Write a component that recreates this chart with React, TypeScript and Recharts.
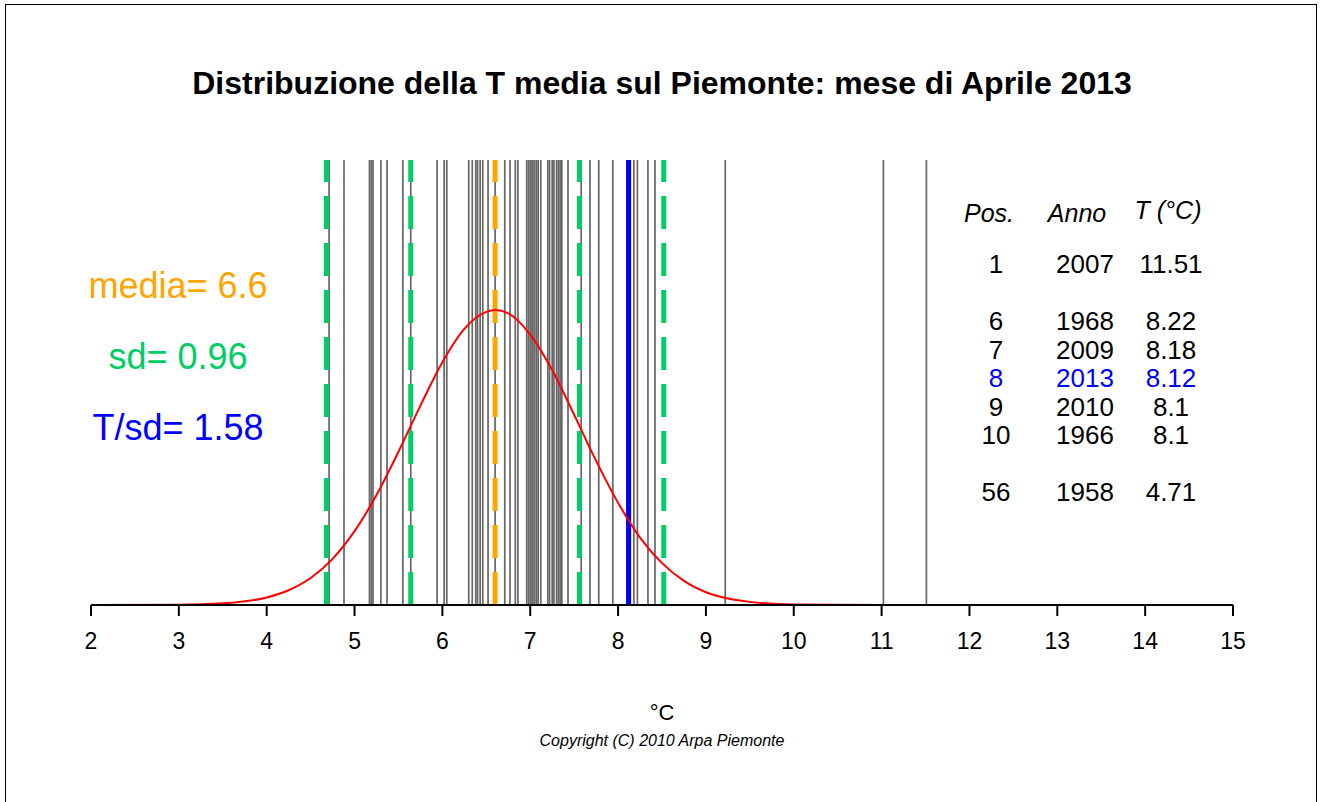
import React from "react"
import { ComposedChart, Line, XAxis, YAxis, ReferenceLine } from "recharts"

// anni osservati (T media aprile, °C)
const years = [
  4.71, 4.88, 5.17, 5.19, 5.21, 5.3, 5.37, 5.55, 5.64, 5.94, 6.02, 6.05, 6.3, 6.34,
  6.38, 6.4, 6.43, 6.46, 6.52, 6.6, 6.71, 6.77, 6.83, 6.86, 6.96, 6.98, 7.0, 7.02,
  7.03, 7.05, 7.07, 7.09, 7.12, 7.2, 7.22, 7.25, 7.27, 7.3, 7.32, 7.34, 7.36, 7.43,
  7.58, 7.68, 7.78, 7.94, 8.1, 8.1, 8.12, 8.18, 8.22, 8.34, 8.42, 9.22, 11.02, 11.51,
]

const curveX = [2, 3, 3.5, 4, 4.25, 4.5, 4.75, 5, 5.25, 5.5, 5.75, 6, 6.25, 6.5, 6.6, 6.75, 7, 7.25, 7.5, 7.75, 8, 8.25, 8.5, 8.75, 9, 9.5, 10, 11, 15]
const curveY = [0, 0.0004, 0.0023, 0.0106, 0.0208, 0.038, 0.065, 0.104, 0.155, 0.216, 0.281, 0.342, 0.389, 0.413, 0.4156, 0.411, 0.381, 0.331, 0.268, 0.203, 0.144, 0.095, 0.059, 0.034, 0.018, 0.0044, 0.0008, 0, 0]

const xTicks = [2, 3, 4, 5, 6, 7, 8, 9, 10, 11, 12, 13, 14, 15]

const media = 6.6
const sd = 0.96
const tsd = 1.58
const tAnno = 8.12
const sdLines = [media - 2 * sd, media - sd, media + sd, media + 2 * sd]

const tabPos = ["1", "6", "7", "8", "9", "10", "56"]
const tabAnno = ["2007", "1968", "2009", "2013", "2010", "1966", "1958"]
const tabT = ["11.51", "8.22", "8.18", "8.12", "8.1", "8.1", "4.71"]
const tabSlot = [0, 2, 3, 4, 5, 6, 8]

const GREEN = "#00cd66"
const ORANGE = "#ffa500"
const BLUE = "#0000ff"
const FONT = "'Liberation Sans', Arial, Helvetica, sans-serif"

const data = curveX.map((x, i) => ({ x, y: curveY[i] }))

export default function App() {
  return (
    <div style={{ position: "absolute", left: 0, top: 0, width: 1321, height: 802, background: "#fff", overflow: "hidden", fontFamily: FONT }}>
      <div style={{ position: "absolute", left: 5, top: 4, width: 1310, height: 820, border: "1.5px solid #000" }} />
      <div style={{ position: "absolute", left: 0, top: 0 }}>
        <ComposedChart width={1321} height={802} data={data} margin={{ top: 160, right: 88, left: 91, bottom: 137 }}>
          <XAxis
            type="number"
            dataKey="x"
            domain={[2, 15]}
            ticks={xTicks}
            allowDataOverflow
            height={60}
            tickSize={11}
            tickMargin={17}
            axisLine={{ stroke: "#000", strokeWidth: 2 }}
            tickLine={{ stroke: "#000", strokeWidth: 2 }}
            tick={{ fill: "#000", fontSize: 23, fontFamily: FONT }}
          />
          <YAxis hide domain={[0, 0.627]} allowDataOverflow />
          {years.map((v, i) => (
            <ReferenceLine key={"g" + i} x={v} stroke="#666" strokeWidth={1.7} />
          ))}
          {sdLines.map((v, i) => (
            <ReferenceLine key={"s" + i} x={v} stroke={GREEN} strokeWidth={5} strokeDasharray="33 14" />
          ))}
          <ReferenceLine x={media} stroke={ORANGE} strokeWidth={5} strokeDasharray="33 14" />
          <ReferenceLine x={tAnno} stroke={BLUE} strokeWidth={5} />
          <Line type="monotone" dataKey="y" stroke="#ff0000" strokeWidth={2} dot={false} isAnimationActive={false} />
        </ComposedChart>
      </div>
      <svg width={1321} height={802} style={{ position: "absolute", left: 0, top: 0, pointerEvents: "none" }} fontFamily={FONT}>
        <text x={662} y={94} textAnchor="middle" fontSize={32} fontWeight="bold" fill="#000">
          Distribuzione della T media sul Piemonte: mese di Aprile 2013
        </text>
        <text x={178} y={298} textAnchor="middle" fontSize={36} fill={ORANGE}>{`media= ${media}`}</text>
        <text x={178} y={369} textAnchor="middle" fontSize={36} fill={GREEN}>{`sd= ${sd}`}</text>
        <text x={178} y={440} textAnchor="middle" fontSize={36} fill={BLUE}>{`T/sd= ${tsd}`}</text>
        <text x={989} y={222} textAnchor="middle" fontSize={25} fontStyle="italic" fill="#000">Pos.</text>
        <text x={1077} y={222} textAnchor="middle" fontSize={25} fontStyle="italic" fill="#000">Anno</text>
        <text x={1168} y={219} textAnchor="middle" fontSize={25} fontStyle="italic" fill="#000">T (°C)</text>
        {tabPos.map((p, i) => {
          const y = 273 + tabSlot[i] * 28.5
          const c = tabAnno[i] === "2013" ? BLUE : "#000"
          return (
            <g key={p} fill={c} fontSize={26}>
              <text x={996} y={y} textAnchor="middle">{p}</text>
              <text x={1085} y={y} textAnchor="middle">{tabAnno[i]}</text>
              <text x={1171} y={y} textAnchor="middle">{tabT[i]}</text>
            </g>
          )
        })}
        <text x={662} y={720} textAnchor="middle" fontSize={22} fill="#000">°C</text>
        <text x={662} y={746} textAnchor="middle" fontSize={16} fontStyle="italic" fill="#000">Copyright (C) 2010 Arpa Piemonte</text>
      </svg>
    </div>
  )
}
